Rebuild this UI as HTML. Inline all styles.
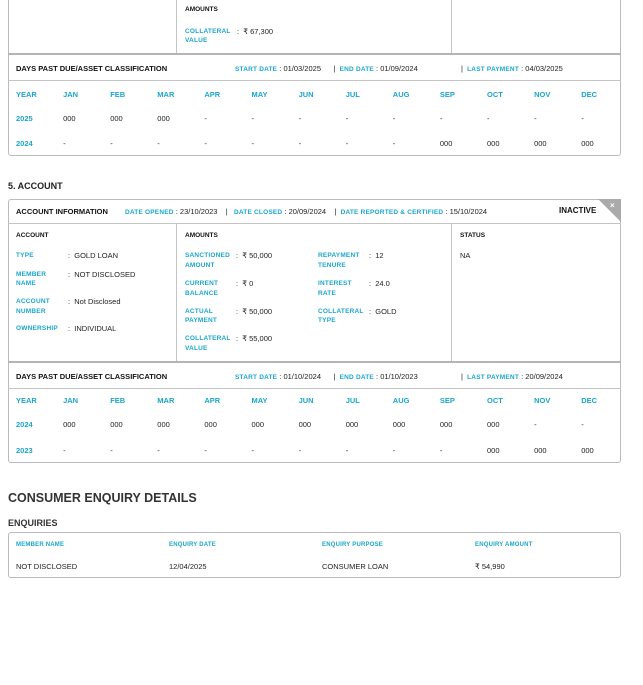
<!DOCTYPE html>
<html><head><meta charset="utf-8"><style>
body{margin:0;width:643px;height:685px;background:#fff;position:relative;overflow:hidden;font-family:"Liberation Sans",Arial,sans-serif;color:#222}
.t{position:absolute;white-space:nowrap;line-height:10px}
.c{color:#1ba6cc;font-weight:bold;font-size:6.5px;letter-spacing:0.2px}
.cm{color:#1ba6cc;font-weight:bold;font-size:7.5px}
.h{font-weight:bold;font-size:7.5px;color:#111}
.v{font-size:7.5px;color:#222}
.box{position:absolute;border:1px solid #bbb;box-sizing:border-box}
.ln{position:absolute;background:#c4c4c4}
</style></head><body>
<div class="box" style="left:8px;top:-2px;width:613px;height:158px;border-radius:0 0 3px 3px"></div>
<div class="ln" style="left:176px;top:0;width:1px;height:54px"></div>
<div class="ln" style="left:451px;top:0;width:1px;height:54px"></div>
<div class="ln" style="left:8px;top:53px;width:613px;height:2px;background:#b5b5b5"></div>
<div class="ln" style="left:8px;top:80px;width:613px;height:1px"></div>
<div class="t h" style="left:185px;top:5px;font-size:6.5px">AMOUNTS</div>
<div class="t c" style="left:185px;top:27px;line-height:9px">COLLATERAL<br>VALUE</div>
<div class="t v" style="left:237px;top:27px">:&nbsp; ₹ 67,300</div>
<div class="t h" style="left:16px;top:64px">DAYS PAST DUE/ASSET CLASSIFICATION</div>
<div class="t v" style="left:235px;top:64px"><span class="c">START DATE</span> : 01/03/2025 &nbsp;&nbsp;&nbsp;&nbsp;&nbsp;| &nbsp;<span class="c">END DATE</span> : 01/09/2024</div>
<div class="t v" style="left:461px;top:64px">| &nbsp;<span class="c">LAST PAYMENT</span> : 04/03/2025</div>

<div class="t" style="left:8px;top:181px;font-weight:bold;font-size:9px">5. ACCOUNT</div>
<div class="box" style="left:8px;top:199px;width:613px;height:264px;border-radius:3px"></div>
<div class="ln" style="left:8px;top:223px;width:613px;height:1px"></div>
<div class="ln" style="left:176px;top:223px;width:1px;height:139px"></div>
<div class="ln" style="left:451px;top:223px;width:1px;height:139px"></div>
<div class="ln" style="left:8px;top:361px;width:613px;height:2px;background:#b5b5b5"></div>
<div class="ln" style="left:8px;top:388px;width:613px;height:1px"></div>
<div style="position:absolute;left:598px;top:199px;width:0;height:0;border-left:23px solid transparent;border-top:23px solid #aaa"></div>
<div class="t" style="left:610px;top:201px;color:#fff;font-size:8px;font-weight:bold">×</div>
<div class="t h" style="left:16px;top:207px">ACCOUNT INFORMATION</div>
<div class="t v" style="left:125px;top:207px"><span class="c">DATE OPENED</span> : 23/10/2023 &nbsp;&nbsp;&nbsp;| &nbsp;&nbsp;<span class="c">DATE CLOSED</span> : 20/09/2024 &nbsp;&nbsp;&nbsp;| &nbsp;<span class="c">DATE REPORTED &amp; CERTIFIED</span> : 15/10/2024</div>
<div class="t h" style="left:559px;top:206px;font-size:8px">INACTIVE</div>
<div class="t h" style="left:16px;top:231px;font-size:6.5px">ACCOUNT</div>
<div class="t h" style="left:185px;top:231px;font-size:6.5px">AMOUNTS</div>
<div class="t h" style="left:460px;top:231px;font-size:6.5px">STATUS</div>
<div class="t c" style="left:16px;top:251px">TYPE</div><div class="t v" style="left:68px;top:251px">: &nbsp;GOLD LOAN</div>
<div class="t c" style="left:16px;top:270px;line-height:9px">MEMBER<br>NAME</div><div class="t v" style="left:68px;top:270px">: &nbsp;NOT DISCLOSED</div>
<div class="t c" style="left:16px;top:297px;line-height:10px">ACCOUNT<br>NUMBER</div><div class="t v" style="left:68px;top:297px">: &nbsp;Not Disclosed</div>
<div class="t c" style="left:16px;top:324px">OWNERSHIP</div><div class="t v" style="left:68px;top:324px">: &nbsp;INDIVIDUAL</div>
<div class="t c" style="left:185px;top:251px;line-height:10px">SANCTIONED<br>AMOUNT</div><div class="t v" style="left:236px;top:251px">:&nbsp; ₹ 50,000</div>
<div class="t c" style="left:185px;top:279px;line-height:10px">CURRENT<br>BALANCE</div><div class="t v" style="left:236px;top:279px">:&nbsp; ₹ 0</div>
<div class="t c" style="left:185px;top:307px;line-height:9px">ACTUAL<br>PAYMENT</div><div class="t v" style="left:236px;top:307px">:&nbsp; ₹ 50,000</div>
<div class="t c" style="left:185px;top:334px;line-height:10px">COLLATERAL<br>VALUE</div><div class="t v" style="left:236px;top:334px">:&nbsp; ₹ 55,000</div>
<div class="t c" style="left:318px;top:251px;line-height:10px">REPAYMENT<br>TENURE</div><div class="t v" style="left:369px;top:251px">:&nbsp; 12</div>
<div class="t c" style="left:318px;top:279px;line-height:10px">INTEREST<br>RATE</div><div class="t v" style="left:369px;top:279px">:&nbsp; 24.0</div>
<div class="t c" style="left:318px;top:307px;line-height:9px">COLLATERAL<br>TYPE</div><div class="t v" style="left:369px;top:307px">:&nbsp; GOLD</div>
<div class="t v" style="left:460px;top:251px">NA</div>
<div class="t h" style="left:16px;top:372px">DAYS PAST DUE/ASSET CLASSIFICATION</div>
<div class="t v" style="left:235px;top:372px"><span class="c">START DATE</span> : 01/10/2024 &nbsp;&nbsp;&nbsp;&nbsp;&nbsp;| &nbsp;<span class="c">END DATE</span> : 01/10/2023</div>
<div class="t v" style="left:461px;top:372px">| &nbsp;<span class="c">LAST PAYMENT</span> : 20/09/2024</div>

<div class="t" style="left:8px;top:491px;font-weight:bold;font-size:12.5px;line-height:14px;color:#333">CONSUMER ENQUIRY DETAILS</div>
<div class="t" style="left:8px;top:518px;font-weight:bold;font-size:9px;color:#333">ENQUIRIES</div>
<div class="box" style="left:8px;top:532px;width:613px;height:46px;border-radius:3px"></div>
<div class="t c" style="left:16px;top:540px;font-size:6px">MEMBER NAME</div>
<div class="t c" style="left:169px;top:540px;font-size:6px">ENQUIRY DATE</div>
<div class="t c" style="left:322px;top:540px;font-size:6px">ENQUIRY PURPOSE</div>
<div class="t c" style="left:475px;top:540px;font-size:6px">ENQUIRY AMOUNT</div>
<div class="t v" style="left:16px;top:562px">NOT DISCLOSED</div>
<div class="t v" style="left:169px;top:562px">12/04/2025</div>
<div class="t v" style="left:322px;top:562px">CONSUMER LOAN</div>
<div class="t v" style="left:475px;top:562px">₹ 54,990</div>

<script>
var M=["YEAR","JAN","FEB","MAR","APR","MAY","JUN","JUL","AUG","SEP","OCT","NOV","DEC"];
function grid(y0,rows){var h="";for(var i=0;i<13;i++){h+='<div class="t cm" style="left:'+(16+i*47.1)+'px;top:'+(y0-4)+'px">'+M[i]+'</div>';}
rows.forEach(function(r){for(var i=0;i<13;i++){var cls=i==0?'cm':'v';h+='<div class="t '+cls+'" style="left:'+(16+i*47.1)+'px;top:'+(r[0]-4)+'px">'+r[1][i]+'</div>';}});
document.body.insertAdjacentHTML('beforeend',h);}
var d="-";
grid(94,[[118,["2025","000","000","000",d,d,d,d,d,d,d,d,d]],[143,["2024",d,d,d,d,d,d,d,d,"000","000","000","000"]]]);
grid(400,[[424,["2024","000","000","000","000","000","000","000","000","000","000",d,d]],[450,["2023",d,d,d,d,d,d,d,d,d,"000","000","000"]]]);
</script>
</body></html>
